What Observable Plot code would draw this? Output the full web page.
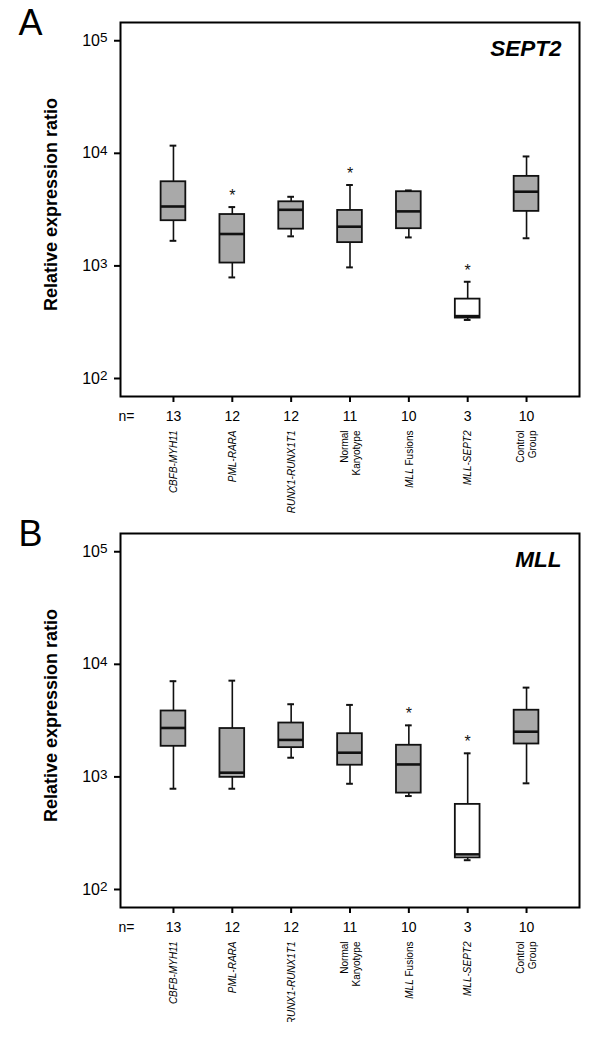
<!DOCTYPE html>
<html>
<head>
<meta charset="utf-8">
<script src="https://cdn.jsdelivr.net/npm/d3@7"></script>
<script src="https://cdn.jsdelivr.net/npm/@observablehq/plot@0.6"></script>
<style>
  html, body { margin: 0; padding: 0; background: #fff; }
  #chart { width: 600px; }
  #chart svg { display: block; overflow: visible; }
</style>
</head>
<body>
<div id="chart"></div>
<script>
// ---- data ----
const categories = ["CBFB-MYH11", "PML-RARA", "RUNX1-RUNX1T1", "Normal\nKaryotype", "MLL Fusions", "MLL-SEPT2", "Control\nGroup"];
const nValues = [13, 12, 12, 11, 10, 3, 10];
const italicLabel = [true, true, true, false, false, true, false];
const whiteBox = [false, false, false, false, false, true, false];
const yTicks = [1e2, 1e3, 1e4, 1e5];

// Panel A: SEPT2
const sept2Min    = [1670,  790, 1830,  970, 1790, 331, 1760];
const sept2Q1     = [2520, 1060, 2120, 1610, 2140, 344, 3050];
const sept2Median = [3370, 1920, 3150, 2230, 3050, 358, 4560];
const sept2Q3     = [5590, 2860, 3710, 3110, 4560, 507, 6240];
const sept2Max    = [11700, 3330, 4110, 5230, 4680, 723, 9380];
const sept2Sig    = [false, true, false, true, false, true, false];

// Panel B: MLL
const mllMin    = [785,  785, 1480,  869,  676, 182,  877];
const mllQ1     = [1870, 991, 1820, 1270,  718, 191, 1960];
const mllMedian = [2720, 1090, 2130, 1640, 1290, 205, 2520];
const mllQ3     = [3850, 2690, 3010, 2420, 1910, 570, 3910];
const mllMax    = [7080, 7160, 4420, 4360, 2870, 1620, 6210];
const mllSig    = [false, false, false, false, true, true, false];

const FONT = "Liberation Sans, Arial, Helvetica, sans-serif";

function makePanel(letter, title, mins, q1s, meds, q3s, maxs, sigs) {
  const rows = categories.map((c, i) => ({
    cat: c, min: mins[i], q1: q1s[i], med: meds[i], q3: q3s[i], max: maxs[i],
    sig: sigs[i], white: whiteBox[i], italic: italicLabel[i]
  }));
  const svg = Plot.plot({
    width: 600,
    height: 511,
    marginTop: 22,
    marginBottom: 115,
    marginLeft: 120,
    marginRight: 21,
    style: { fontFamily: FONT, color: "#000", background: "transparent", overflow: "visible" },
    x: { type: "band", domain: categories, paddingInner: 0.58, paddingOuter: 0.69, align: 0.5, round: false, label: null },
    y: { type: "log", domain: [Math.pow(10, 1.84), Math.pow(10, 5.162)], label: null },
    marks: [
      // whiskers
      Plot.ruleX(rows, { x: "cat", y1: "min", y2: "max", stroke: "#111", strokeWidth: 1.6 }),
      Plot.tickY(rows, { x: "cat", y: "min", stroke: "#111", strokeWidth: 2, insetLeft: 9, insetRight: 9 }),
      Plot.tickY(rows, { x: "cat", y: "max", stroke: "#111", strokeWidth: 2, insetLeft: 9, insetRight: 9 }),
      // boxes
      Plot.barY(rows, { x: "cat", y1: "q1", y2: "q3", fill: d => d.white ? "#ffffff" : "#a9a9a9", stroke: "#111", strokeWidth: 1.8 }),
      // medians
      Plot.tickY(rows, { x: "cat", y: "med", stroke: "#111", strokeWidth: 2.6 }),
      // significance stars
      Plot.text(rows.filter(d => d.sig), { x: "cat", y: "max", text: () => "*", lineAnchor: "bottom", dy: -6, fontSize: 16, fill: "#111" }),
      // frame
      Plot.frame({ stroke: "#000", strokeWidth: 2 }),
      // axes
      Plot.axisY({ ticks: yTicks, tickFormat: d => "10|" + Math.round(Math.log10(d)), tickSize: 6, tickPadding: 7, strokeWidth: 2, fontSize: 16, label: null }),
      Plot.axisX({ tickFormat: d => String(nValues[categories.indexOf(d)]), tickSize: 6, tickPadding: 9, strokeWidth: 2, fontSize: 14, label: null }),
      Plot.text(["n="], { frameAnchor: "bottom-left", textAnchor: "start", lineAnchor: "middle", dx: -2, dy: 20, fontSize: 14 }),
      // category labels
      Plot.text(rows.filter(d => d.italic), { x: "cat", text: "cat", frameAnchor: "bottom", rotate: -90, textAnchor: "end", lineAnchor: "middle", dy: 34, fontSize: 10, fontStyle: "italic", lineHeight: 1.17 }),
      Plot.text(rows.filter(d => !d.italic), { x: "cat", text: "cat", frameAnchor: "bottom", rotate: -90, textAnchor: "end", lineAnchor: "middle", dy: 34, fontSize: 10, lineHeight: 1.17 }),
      // y label
      Plot.text(["Relative expression ratio"], { frameAnchor: "left", rotate: -90, textAnchor: "middle", lineAnchor: "middle", dx: -69, dy: -5, fontSize: 18, fontWeight: "bold" }),
      // panel title
      Plot.text([title], { frameAnchor: "top-right", textAnchor: "end", lineAnchor: "bottom", dx: -18, dy: 33, fontSize: 22.5, fontWeight: "bold", fontStyle: "italic" }),
      // panel letter
      Plot.text([letter], { frameAnchor: "top-left", textAnchor: "start", lineAnchor: "bottom", dx: -102, dy: 12, fontSize: 36 })
    ]
  });

  // superscript exponents on y tick labels; mixed style for "MLL Fusions"
  d3.select(svg).selectAll("text").each(function () {
    const t = this.textContent;
    if (/^10\|\d$/.test(t)) {
      const exp = t.split("|")[1];
      const sel = d3.select(this);
      sel.text(null);
      sel.append("tspan").text("10");
      sel.append("tspan").attr("font-size", 13.5).attr("dy", -3.5).text(exp);
    } else if (t === "MLL Fusions") {
      const sel = d3.select(this);
      sel.text(null);
      sel.append("tspan").attr("font-style", "italic").text("MLL");
      sel.append("tspan").text(" Fusions");
    }
  });
  return svg;
}

const chart = document.getElementById("chart");
chart.appendChild(makePanel("A", "SEPT2", sept2Min, sept2Q1, sept2Median, sept2Q3, sept2Max, sept2Sig));
chart.appendChild(makePanel("B", "MLL", mllMin, mllQ1, mllMedian, mllQ3, mllMax, mllSig));
</script>
</body>
</html>
